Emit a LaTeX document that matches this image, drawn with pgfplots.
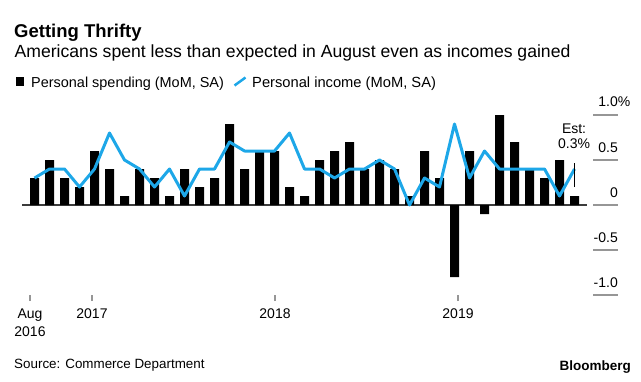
\documentclass[border=0pt]{standalone}
\usepackage{pgfplots}
\pgfplotsset{compat=1.18}
\usepackage{pgfplotstable}
\usepackage{fontspec}
\setmainfont{Liberation Sans}
\definecolor{bbblue}{RGB}{29,167,232}
\definecolor{tickgray}{RGB}{150,150,150}
\definecolor{zerogray}{RGB}{60,60,60}

% k = months since Aug 2016
\pgfplotstableread{
k spend income
0 0.3 0.3
1 0.5 0.4
2 0.3 0.4
3 0.2 0.2
4 0.6 0.4
5 0.4 0.8
6 0.1 0.5
7 0.4 0.4
8 0.3 0.2
9 0.1 0.4
10 0.4 0.1
11 0.2 0.4
12 0.3 0.4
13 0.9 0.7
14 0.4 0.6
15 0.6 0.6
16 0.6 0.6
17 0.2 0.8
18 0.1 0.4
19 0.5 0.4
20 0.6 0.3
21 0.7 0.4
22 0.4 0.4
23 0.5 0.5
24 0.4 0.4
25 0.1 0.0
26 0.6 0.3
27 0.3 0.2
28 -0.8 0.9
29 0.6 0.3
30 -0.1 0.6
31 1.0 0.4
32 0.7 0.4
33 0.4 0.4
34 0.3 0.4
35 0.5 0.1
36 0.1 0.4
}\datatable

\begin{document}
\begin{tikzpicture}[x=1bp,y=1bp]
\useasboundingbox (0,0) rectangle (641,381);
\begin{axis}[
  at={(19.5bp,86bp)}, anchor=south west,
  scale only axis, width=573.5bp, height=180bp,
  xmin=-1, xmax=37.2333, ymin=-1, ymax=1,
  axis line style={draw=none},
  clip=false,
  ytick=\empty,
  xtick={-0.3,3.8333,16.0333,28.2333},
  xticklabels={{Aug\\2016},2017,2018,2019},
  xtick pos=lower, tick align=outside,
  major tick length=6bp,
  xtick style={tickgray, line width=1.2bp},
  xticklabel style={font=\fontsize{14bp}{18bp}\selectfont, align=center, inner sep=0pt, anchor=north, yshift=-8bp},
]
\draw[zerogray, line width=1.2bp] (axis cs:-0.833,0) -- (axis cs:36.833,0);
\addplot[ybar, bar width=9bp, fill=black, draw=none] table[x=k, y=spend] {\datatable};
\addplot[bbblue, line width=3bp, line join=round, mark=none] table[x=k, y=income] {\datatable};
% right-hand scale
\draw[tickgray, line width=1.5bp] (axis cs:37.2333,1) -- ([xshift=25bp]axis cs:37.2333,1);
\draw[tickgray, line width=1.5bp] (axis cs:37.2333,0.5) -- ([xshift=25bp]axis cs:37.2333,0.5);
\draw[tickgray, line width=1.5bp] (axis cs:37.2333,0) -- ([xshift=25bp]axis cs:37.2333,0);
\draw[tickgray, line width=1.5bp] (axis cs:37.2333,-0.5) -- ([xshift=25bp]axis cs:37.2333,-0.5);
\draw[tickgray, line width=1.5bp] (axis cs:37.2333,-1) -- ([xshift=25bp]axis cs:37.2333,-1);
\node[anchor=base east, inner sep=0pt, font=\fontsize{14bp}{16bp}\selectfont] at ([shift={(25bp,8bp)}]axis cs:37.2333,1) {1.0\rlap{\%}};
\node[anchor=base east, inner sep=0pt, font=\fontsize{14bp}{16bp}\selectfont] at ([shift={(25bp,8bp)}]axis cs:37.2333,0.5) {0.5};
\node[anchor=base east, inner sep=0pt, font=\fontsize{14bp}{16bp}\selectfont] at ([shift={(25bp,8bp)}]axis cs:37.2333,0) {0};
\node[anchor=base east, inner sep=0pt, font=\fontsize{14bp}{16bp}\selectfont] at ([shift={(25bp,8bp)}]axis cs:37.2333,-0.5) {-0.5};
\node[anchor=base east, inner sep=0pt, font=\fontsize{14bp}{16bp}\selectfont] at ([shift={(25bp,8bp)}]axis cs:37.2333,-1) {-1.0};
% estimate
\draw[black, line width=0.8bp] (axis cs:36,0.2) -- (axis cs:36,0.467);
\node[anchor=base, inner sep=0pt, font=\fontsize{14bp}{16bp}\selectfont] at (axis cs:35.97,0.8) {Est:};
\node[anchor=base, inner sep=0pt, font=\fontsize{14bp}{16bp}\selectfont] at (axis cs:35.97,0.633) {0.3\%};
\end{axis}
% titles
\node[anchor=base west, inner sep=0pt, font=\bfseries\fontsize{18.5bp}{20bp}\selectfont] at (14,344) {Getting Thrifty};
\node[anchor=base west, inner sep=0pt, font=\fontsize{17.6bp}{19bp}\selectfont] at (14.5,324) {Americans spent less than expected in August even as incomes gained};
% legend
\fill[black] (16,295) rectangle (24,304);
\node[anchor=base west, inner sep=0pt, font=\fontsize{14.45bp}{16bp}\selectfont] at (31,294) {Personal spending (MoM, SA)};
\draw[bbblue, line width=2.5bp] (234.5,295.5) -- (245.5,303.5);
\node[anchor=base west, inner sep=0pt, font=\fontsize{14.7bp}{16bp}\selectfont] at (252,294) {Personal income (MoM, SA)};
% footer
\node[anchor=base west, inner sep=0pt, font=\fontsize{13.4bp}{16bp}\selectfont] at (14,13) {Source: Commerce Department};
\node[anchor=base east, inner sep=0pt, font=\bfseries\fontsize{13.5bp}{16bp}\selectfont] at (631,11) {Bloomberg};
\end{tikzpicture}
\end{document}
